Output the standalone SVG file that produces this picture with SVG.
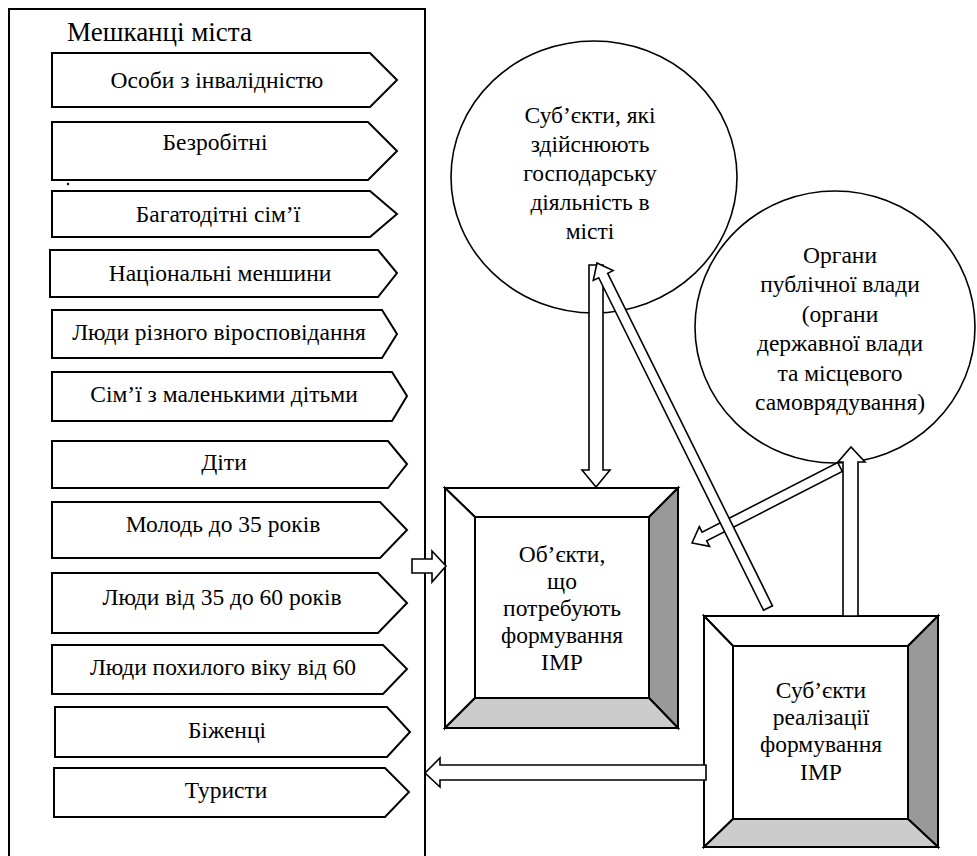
<svg xmlns="http://www.w3.org/2000/svg" width="977" height="856" viewBox="0 0 977 856">
<style>
text{font-family:'Liberation Serif','Times New Roman',serif;fill:#000;}
.t{font-size:23.5px;text-anchor:middle;}
.title{font-size:27px;}
.item{fill:#fff;stroke:#000;stroke-width:2;stroke-linejoin:miter;}
.circ{fill:#fff;stroke:#000;stroke-width:1.6;}
.bw{fill:#fff;stroke:#000;stroke-width:2;stroke-linejoin:miter;}
.bd{fill:#999;stroke:#000;stroke-width:2;stroke-linejoin:miter;}
.bl{fill:#ccc;stroke:#000;stroke-width:2;stroke-linejoin:miter;}
.arr{fill:#fff;stroke:#000;stroke-width:1.6;stroke-linejoin:miter;}
</style>
<rect width="977" height="856" fill="#fff"/>
<g id="residents">
<rect x="9" y="9" width="416" height="860" fill="#fff" stroke="#000" stroke-width="2"/>
<text class="title" x="67" y="41">Мешканці міста</text>
</g>
<g id="items">
<g id="item1"><polygon class="item" points="52,53 370,53 397,80 370,107 52,107"/><text class="t" x="217" y="88">Особи з інвалідністю</text></g>
<g id="item2"><polygon class="item" points="52,122 368,122 397,151 368,180 52,180"/><text class="t" x="215" y="150">Безробітні</text><circle cx="68" cy="184" r="1.2" fill="#000"/></g>
<g id="item3"><polygon class="item" points="52,191 370,191 397,214 370,237 52,237"/><text class="t" x="218" y="222">Багатодітні сім’ї</text></g>
<g id="item4"><polygon class="item" points="50,250 378,250 397,273 378,297 50,297"/><text class="t" x="220" y="281">Національні меншини</text></g>
<g id="item5"><polygon class="item" points="52,310 382,310 397,334 382,358 52,358"/><text class="t" x="219" y="340">Люди різного віросповідання</text></g>
<g id="item6"><polygon class="item" points="52,372 392,372 407,396 392,421 52,421"/><text class="t" x="224" y="402">Сім’ї з маленькими дітьми</text></g>
<g id="item7"><polygon class="item" points="52,441 388,441 407,464 388,488 52,488"/><text class="t" x="224" y="470">Діти</text></g>
<g id="item8"><polygon class="item" points="52,502 380,502 407,530 380,558 52,558"/><text class="t" x="223" y="532">Молодь до 35 років</text></g>
<g id="item9"><polygon class="item" points="52,573 378,573 407,603 378,633 52,633"/><text class="t" x="222" y="605">Люди від 35 до 60 років</text></g>
<g id="item10"><polygon class="item" points="52,645 383,645 407,669 383,694 52,694"/><text class="t" x="223" y="675">Люди похилого віку від 60</text></g>
<g id="item11"><polygon class="item" points="55,707 387,707 410,732 387,757 55,757"/><text class="t" x="227" y="738">Біженці</text></g>
<g id="item12"><polygon class="item" points="54,768 385,768 409,792 385,817 54,817"/><text class="t" x="226" y="798">Туристи</text></g>
</g>

<g id="objects">
<polygon class="bw" points="445,488 678,488 649,517 475,517"/>
<polygon class="bw" points="445,488 475,517 475,698 445,728"/>
<polygon class="bd" points="678,488 678,728 649,698 649,517"/>
<polygon class="bl" points="445,728 678,728 649,698 475,698"/>
<rect class="bw" x="475" y="517" width="174" height="181"/>
<text class="t" x="562" y="562">Об’єкти,</text>
<text class="t" x="562" y="589">що</text>
<text class="t" x="562" y="616">потребують</text>
<text class="t" x="562" y="643">формування</text>
<text class="t" x="562" y="670">ІМР</text>
</g>
<g id="implementers">
<polygon class="bw" points="704,616 938,616 908,646 733,646"/>
<polygon class="bw" points="704,616 733,646 733,819 704,847"/>
<polygon class="bd" points="938,616 938,847 908,819 908,646"/>
<polygon class="bl" points="704,847 938,847 908,819 733,819"/>
<rect class="bw" x="733" y="646" width="175" height="173"/>
<text class="t" x="821" y="698">Суб’єкти</text>
<text class="t" x="821" y="725">реалізації</text>
<text class="t" x="821" y="752">формування</text>
<text class="t" x="821" y="780">ІМР</text>
</g>
<g id="business">
<ellipse class="circ" cx="594" cy="177" rx="143" ry="136"/>
<text class="t" x="590" y="123">Суб’єкти, які</text>
<text class="t" x="590" y="152">здійснюють</text>
<text class="t" x="590" y="181">господарську</text>
<text class="t" x="590" y="210">діяльність в</text>
<text class="t" x="590" y="239">місті</text>
</g>
<g id="authorities">
<ellipse class="circ" cx="835" cy="327" rx="140" ry="136"/>
<text class="t" x="840" y="263">Органи</text>
<text class="t" x="840" y="292">публічної влади</text>
<text class="t" x="840" y="322">(органи</text>
<text class="t" x="840" y="351">державної влади</text>
<text class="t" x="840" y="381">та місцевого</text>
<text class="t" x="840" y="410">самоврядування)</text>
</g>

<g id="connectors">
<polygon class="arr" points="412,559 432,559 432,551 446,566 432,582 432,573 412,573"/>
<polygon class="arr" points="425,773 440,758 440,765 706,765 706,780 440,780 440,787"/>
<polygon class="arr" points="589,265 603,265 603,470 610,470 596,487 582,470 589,470"/>
<polygon class="arr" points="692,543 699.3,526.7 702.1,532.1 837.7,462.6 842.3,471.4 706.7,540.9 709.5,546.3"/>
<polygon class="arr" points="843,616 843,462 838,462 851,447 865,462 858,462 858,616"/>
<polygon class="arr" points="597,263 613.1,270.6 607.7,273.3 772.5,605.8 763.5,610.2 598.7,277.7 593.3,280.4"/>
</g>
</svg>
